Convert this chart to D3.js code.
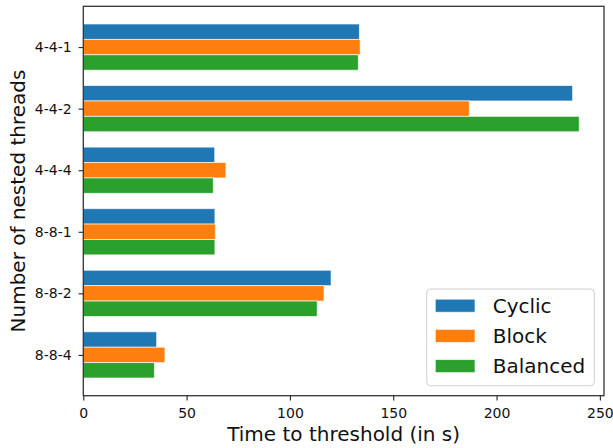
<!DOCTYPE html>
<html>
<head>
<meta charset="utf-8">
<script src="https://cdn.jsdelivr.net/npm/d3@7/dist/d3.min.js"></script>
<style>
  html, body { margin: 0; padding: 0; background: #fff; }
  svg { display: block; font-family: "DejaVu Sans", sans-serif; }
</style>
</head>
<body>
<svg id="chart" width="613" height="448"></svg>
<script>
// Thread configurations (top to bottom)
const categories = ["4-4-1", "4-4-2", "4-4-4", "8-8-1", "8-8-2", "8-8-4"];

// Time to threshold in seconds, one array per scheduling strategy
const cyclic   = [133.6, 236.8, 63.6, 63.7, 119.9, 35.5];
const block    = [134.0, 186.8, 69.0, 63.9, 116.5, 39.5];
const balanced = [133.1, 240.0, 62.9, 63.7, 113.2, 34.4];

const seriesNames = ["Cyclic", "Block", "Balanced"];
const xTicks = [0, 50, 100, 150, 200, 250];

const series = [
  { name: seriesNames[0], values: cyclic,   color: "#1f77b4" },
  { name: seriesNames[1], values: block,    color: "#ff7f0e" },
  { name: seriesNames[2], values: balanced, color: "#2ca02c" }
];

const svg = d3.select("#chart");
const plotL = 83.3, plotR = 604, plotT = 6.3, plotB = 395.7;
const barH = 0.25;

const maxVal = d3.max(series, s => d3.max(s.values));
const x = d3.scaleLinear().domain([0, maxVal * 1.05]).range([plotL, plotR]);

const lo = -1.5 * barH, hi = categories.length - 1 + 1.5 * barH;
const pad = (hi - lo) * 0.05;
const y = d3.scaleLinear().domain([lo - pad, hi + pad]).range([plotT, plotB]);

// Bars
series.forEach((s, si) => {
  const off = (si - 1) * barH;
  svg.append("g")
    .selectAll("rect")
    .data(s.values)
    .join("rect")
    .attr("x", x(0))
    .attr("y", (d, i) => y(i + off - barH / 2))
    .attr("width", d => x(d) - x(0))
    .attr("height", y(barH) - y(0))
    .attr("fill", s.color)
    .attr("stroke", "#ffffff")
    .attr("stroke-opacity", 0.7)
    .attr("stroke-width", 0.9);
});

// Axes
const xAxis = d3.axisBottom(x).tickValues(xTicks).tickFormat(d3.format("d"))
  .tickSize(4.7).tickPadding(8).tickSizeOuter(0);
const gx = svg.append("g").attr("transform", `translate(0,${plotB})`).call(xAxis);

const yAxis = d3.axisLeft(y).tickValues(d3.range(categories.length))
  .tickFormat(i => categories[i]).tickSize(4.7).tickPadding(7).tickSizeOuter(0);
const gy = svg.append("g").attr("transform", `translate(${plotL},0)`).call(yAxis);

[gx, gy].forEach(g => {
  g.select(".domain").remove();
  g.selectAll(".tick line").attr("stroke", "#222").attr("stroke-width", 1.1);
  g.selectAll(".tick text").attr("fill", "#111").style("font-size", "14px")
    .style("font-family", "DejaVu Sans, sans-serif");
});

// Frame
svg.append("rect")
  .attr("x", plotL).attr("y", plotT)
  .attr("width", plotR - plotL).attr("height", plotB - plotT)
  .attr("fill", "none").attr("stroke", "#333").attr("stroke-width", 1.3);

// Axis titles
svg.append("text")
  .attr("x", (plotL + plotR) / 2).attr("y", 441.3)
  .attr("text-anchor", "middle")
  .style("font-size", "20px").attr("fill", "#111")
  .text("Time to threshold (in s)");

svg.append("text")
  .attr("transform", `translate(24.5,${(plotT + plotB) / 2}) rotate(-90)`)
  .attr("text-anchor", "middle")
  .style("font-size", "20px").attr("fill", "#111")
  .text("Number of nested threads");

// Legend
const lg = svg.append("g");
lg.append("rect")
  .attr("x", 426.7).attr("y", 289).attr("width", 167.6).attr("height", 96.7)
  .attr("rx", 4).attr("fill", "#fff").attr("fill-opacity", 0.8)
  .attr("stroke", "#d0d0d0").attr("stroke-width", 1);

series.forEach((s, i) => {
  const cy = 305.7 + i * 30.2;
  lg.append("rect")
    .attr("x", 435.3).attr("y", cy - 6.5).attr("width", 39.7).attr("height", 13)
    .attr("fill", s.color).attr("stroke", "#fff").attr("stroke-opacity", 0.7).attr("stroke-width", 0.9);
  lg.append("text")
    .attr("x", 492.7).attr("y", cy + 7.3)
    .style("font-size", "20px").attr("fill", "#111")
    .text(s.name);
});
</script>
</body>
</html>
